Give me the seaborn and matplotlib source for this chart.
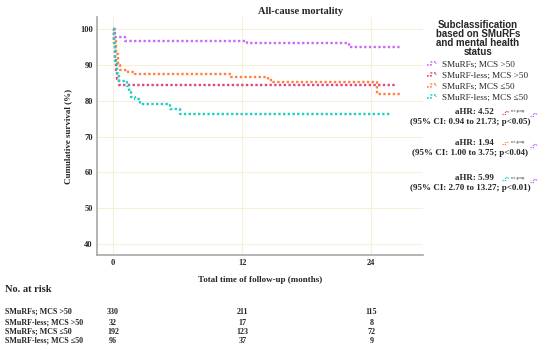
import pandas as pd
import seaborn as sns
import matplotlib.pyplot as plt
from matplotlib.lines import Line2D
from matplotlib.legend_handler import HandlerBase
from matplotlib.transforms import blended_transform_factory

# Kaplan-Meier step values (months, survival %)
grp_labels = ["SMuRFs; MCS >50", "SMuRF-less; MCS >50", "SMuRFs; MCS ≤50", "SMuRF-less; MCS ≤50"]
grp_colors = ["#c86bfa", "#e0457b", "#ff8040", "#1fcfbf"]

t_smurf_hi = [0, 0.15, 1.1, 12.4, 21.9, 26.8]
s_smurf_hi = [100, 97.8, 96.6, 96.1, 95.1, 95.1]
t_less_hi = [0, 0.1, 0.2, 0.3, 0.4, 0.5, 26.2]
s_less_hi = [100, 96, 92, 88.5, 86, 84.5, 84.5]
t_smurf_lo = [0, 0.1, 0.25, 0.45, 0.65, 1.4, 2.05, 11.0, 14.4, 14.9, 24.5, 26.7]
s_smurf_lo = [100, 97, 93, 89.9, 88.7, 88.1, 87.6, 86.7, 85.8, 85.1, 82.0, 82.0]
t_less_lo = [0, 0.1, 0.2, 0.35, 0.5, 1.3, 1.5, 1.7, 2.0, 2.5, 5.3, 6.2, 25.7]
s_less_lo = [100, 96, 91, 87.7, 85.5, 84.2, 82.5, 81.1, 80.4, 79.1, 77.8, 76.2, 76.2]

x_ticks = [0, 12, 24]
y_ticks = [40, 50, 60, 70, 80, 90, 100]

risk_rows = [[330, 211, 115], [32, 17, 8], [192, 123, 72], [96, 37, 9]]

ahr_text = ["aHR: 4.52", "aHR: 1.94", "aHR: 5.99"]
ci_text = ["(95% CI: 0.94 to 21.73; p<0.05)",
           "(95% CI: 1.00 to 3.75; p<0.04)",
           "(95% CI: 2.70 to 13.27; p<0.01)"]
ahr_group = [1, 2, 3]  # compared with group 0 (ref.)

curves = [(t_smurf_hi, s_smurf_hi), (t_less_hi, s_less_hi),
          (t_smurf_lo, s_smurf_lo), (t_less_lo, s_less_lo)]
df = pd.concat([pd.DataFrame({"time": t, "surv": s, "group": g})
                for (t, s), g in zip(curves, grp_labels)])

sns.set_style("white")
plt.rcParams["font.family"] = ["Liberation Serif", "DejaVu Serif"]

W, H = 550, 350
fig = plt.figure(figsize=(5.5, 3.5), dpi=100)
ax = fig.add_axes([97 / W, 1 - 255 / H, (423 - 97) / W, (255 - 17) / H])

dots = (0, (1, 1))
for g, c in zip(grp_labels, grp_colors):
    sns.lineplot(data=df[df["group"] == g], x="time", y="surv", color=c,
                 drawstyle="steps-post", estimator=None, lw=1.7,
                 linestyle=dots, ax=ax, label=g, legend=False)

ax.set_xlim(-1.5, 28.8)
ax.set_ylim(36.9, 103.4)
ax.set_xticks(x_ticks)
ax.set_yticks(y_ticks)
ax.grid(True, color="#f5efdc", lw=0.8)
ax.tick_params(length=0, labelsize=6, pad=3)
for lab in ax.get_xticklabels() + ax.get_yticklabels():
    lab.set_fontweight("bold")
for sp in ["top", "right"]:
    ax.spines[sp].set_visible(False)
for sp in ["left", "bottom"]:
    ax.spines[sp].set_color("#a8a8a8")
    ax.spines[sp].set_linewidth(1.2)
ax.set_xlabel("Total time of follow-up (months)", fontsize=6.5, fontweight="bold", labelpad=6)
ax.set_ylabel("Cumulative survival (%)", fontsize=6.5, fontweight="bold", labelpad=6)
fig.text(301 / W, 1 - 12 / H, "All-cause mortality", fontsize=7.5, fontweight="bold",
         ha="center", va="center")


class StepHandler(HandlerBase):
    def create_artists(self, legend, orig, xd, yd, w, h, fs, trans):
        xs = [-xd, -xd + 0.4 * w, -xd + 0.4 * w, -xd + 0.85 * w, -xd + 0.85 * w]
        ys = [-yd + 0.2 * h, -yd + 0.2 * h, -yd + 0.75 * h, -yd + 0.75 * h, -yd + 0.4 * h]
        ln = Line2D(xs, ys, color=orig.get_color(), lw=1.2, linestyle=dots, transform=trans)
        return [ln]


def px(x, y):
    return x / W, 1 - y / H


# legend title as its own text, then the entries below it
fig.text(*px(478, 38.5), "Subclassification\nbased on SMuRFs\nand mental health\nstatus",
         family="Liberation Sans", fontweight="bold", fontsize=7.0, linespacing=0.88,
         ha="center", va="center", multialignment="center")
handles = [Line2D([], [], color=c) for c in grp_colors]
leg = fig.legend(handles, grp_labels, loc="upper left", bbox_to_anchor=px(427, 60),
                 frameon=False, fontsize=6.6, handlelength=1.15, handletextpad=0.5,
                 labelspacing=0.28, borderpad=0, borderaxespad=0,
                 handler_map={Line2D: StepHandler()})


def step_icon(x0, y0, color, w=7, h=3):
    xs = [x0, x0 + 0.4 * w, x0 + 0.4 * w, x0 + 0.85 * w, x0 + 0.85 * w]
    ys = [y0 + h / 2, y0 + h / 2, y0 - h / 2, y0 - h / 2, y0]
    fig.add_artist(Line2D([x / W for x in xs], [1 - y / H for y in ys], color=color,
                          lw=0.9, linestyle=(0, (1, 0.8)), transform=fig.transFigure))


ahr_y = [112, 143, 178]
for i, (a, ci, g) in enumerate(zip(ahr_text, ci_text, ahr_group)):
    y = ahr_y[i]
    fig.text(*px(494, y), a, fontsize=6.5, fontweight="bold", ha="right", va="center")
    fig.text(*px(470, y + 10), ci, fontsize=6.5, fontweight="bold", ha="center", va="center")
    step_icon(502, y, grp_colors[g])
    fig.text(*px(511, y - 0.5), "ref. group", fontsize=2.4, ha="left", va="center")
    step_icon(530, y + 2.5, grp_colors[0])

# number at risk table
fig.text(*px(5, 290), "No. at risk", fontsize=7.5, fontweight="bold", ha="left", va="center")
tr = blended_transform_factory(ax.transData, fig.transFigure)
row_y = [312, 323, 332, 341]
for lab, row, y in zip(grp_labels, risk_rows, row_y):
    fig.text(*px(5, y), lab, fontsize=5.8, fontweight="bold", ha="left", va="center")
    for xt, n in zip(x_ticks, row):
        ax.text(xt, 1 - y / H, str(n), transform=tr, fontsize=5.8, fontweight="bold",
                ha="center", va="center", clip_on=False)

fig.savefig("out.png", dpi=100)
